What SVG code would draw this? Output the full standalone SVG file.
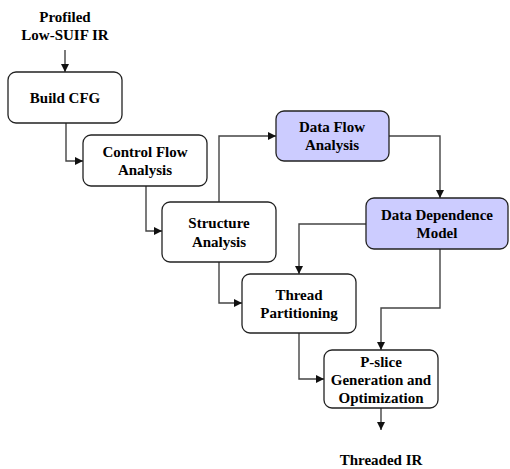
<svg xmlns="http://www.w3.org/2000/svg" width="510" height="469" viewBox="0 0 510 469">
  <style>
    .box { fill: #ffffff; stroke: #222222; stroke-width: 1.3; }
    .hl { fill: #ccccff; }
    .lbl { font-family: "Liberation Serif", "Times New Roman", serif; font-weight: bold; font-size: 15px; fill: #000000; text-anchor: middle; }
    .wire { fill: none; stroke: #444444; stroke-width: 1.4; marker-end: url(#head); }
  </style>
  <defs>
    <marker id="head" viewBox="0 0 10 10" refX="10" refY="5" markerWidth="8" markerHeight="8" markerUnits="userSpaceOnUse" orient="auto">
      <path d="M0,0 L10,5 L0,10 Z" fill="#111111"/>
    </marker>
  </defs>
  <rect width="510" height="469" fill="#ffffff"/>

  <g id="connectors">
    <path class="wire" d="M65,50 V72"/>
    <path class="wire" d="M66,123 V161 H83"/>
    <path class="wire" d="M146,186 V231 H162"/>
    <path class="wire" d="M219,202 V136 H276"/>
    <path class="wire" d="M389,136 H440 V198"/>
    <path class="wire" d="M366,224 H299 V274"/>
    <path class="wire" d="M219,262 V303 H242"/>
    <path class="wire" d="M440,249 V308 H381 V350"/>
    <path class="wire" d="M299,333 V379 H324"/>
    <path class="wire" d="M381,408 V430"/>
  </g>

  <g id="input">
    <text class="lbl" x="65" y="22">Profiled</text>
    <text class="lbl" x="65" y="40">Low-SUIF IR</text>
  </g>

  <g id="build-cfg">
    <rect class="box" x="8" y="72" width="114" height="51" rx="8"/>
    <text class="lbl" x="65" y="103">Build CFG</text>
  </g>

  <g id="control-flow">
    <rect class="box" x="83" y="135" width="124" height="51" rx="8"/>
    <text class="lbl" x="145" y="157">Control Flow</text>
    <text class="lbl" x="145" y="175">Analysis</text>
  </g>

  <g id="structure">
    <rect class="box" x="162" y="202" width="114" height="60" rx="8"/>
    <text class="lbl" x="219" y="228">Structure</text>
    <text class="lbl" x="219" y="247">Analysis</text>
  </g>

  <g id="data-flow">
    <rect class="box hl" x="276" y="111" width="113" height="50" rx="8"/>
    <text class="lbl" x="332" y="132">Data Flow</text>
    <text class="lbl" x="332" y="150">Analysis</text>
  </g>

  <g id="data-dependence">
    <rect class="box hl" x="366" y="198" width="142" height="51" rx="8"/>
    <text class="lbl" x="437" y="220">Data Dependence</text>
    <text class="lbl" x="437" y="238">Model</text>
  </g>

  <g id="thread-partitioning">
    <rect class="box" x="242" y="274" width="114" height="59" rx="8"/>
    <text class="lbl" x="299" y="300">Thread</text>
    <text class="lbl" x="299" y="318">Partitioning</text>
  </g>

  <g id="pslice">
    <rect class="box" x="324" y="350" width="114" height="58" rx="8"/>
    <text class="lbl" x="381" y="367">P-slice</text>
    <text class="lbl" x="381" y="385">Generation and</text>
    <text class="lbl" x="381" y="403">Optimization</text>
  </g>

  <g id="output">
    <text class="lbl" x="381" y="465">Threaded IR</text>
  </g>
</svg>
